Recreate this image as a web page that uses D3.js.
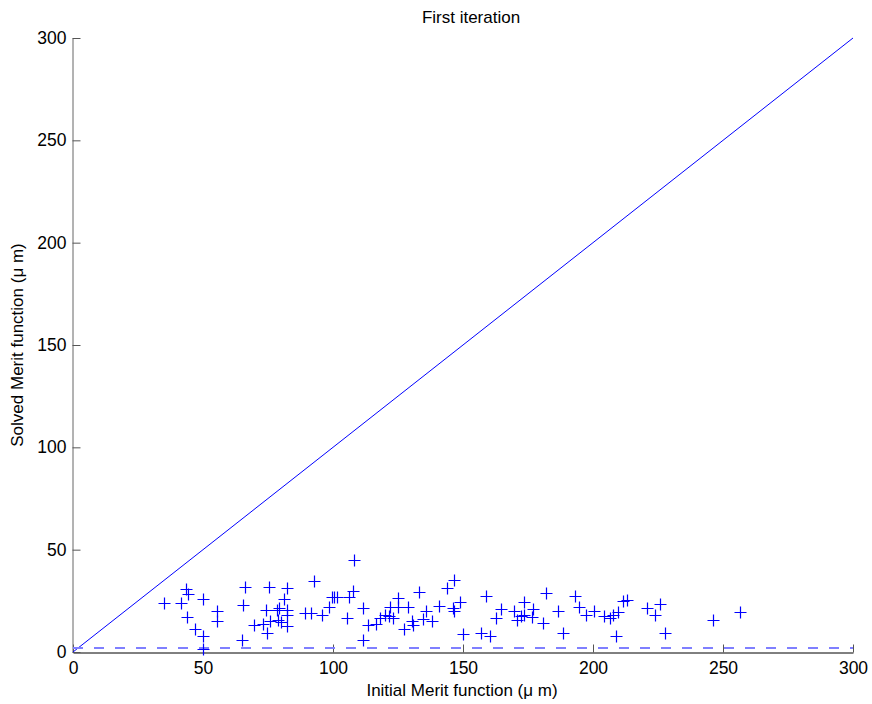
<!DOCTYPE html>
<html>
<head>
<meta charset="utf-8">
<script src="https://cdn.jsdelivr.net/npm/d3@7"></script>
<style>
  html, body { margin: 0; padding: 0; background: #fff; }
  svg { display: block; font-family: "Liberation Sans", Arial, Helvetica, sans-serif; }
</style>
</head>
<body>
<svg id="chart" width="872" height="704"></svg>
<script>
// Initial merit function values (µm)
const initialMerit = [
  35.0, 41.7, 43.3, 44.3, 43.7, 46.9, 49.9, 50.1, 50.1, 55.3,
  55.2, 66.2, 65.4, 65.1, 69.5, 75.5, 82.2, 92.7, 81.3, 99.5,
  100.5, 101.7, 106.3, 107.8, 108.1, 74.2, 78.3, 79.3, 82.4, 82.4,
  89.2, 91.4, 95.9, 98.6, 105.3, 73.0, 75.8, 79.0, 79.9, 82.4,
  74.5, 111.4, 113.6, 116.5, 118.1, 120.0, 121.7, 123.0, 121.9, 125.1,
  125.1, 129.0, 127.3, 130.3, 130.9, 134.5, 138.0, 133.2, 135.8, 140.9,
  143.7, 146.7, 146.3, 146.4, 111.4, 148.8, 158.8, 149.9, 156.8, 160.4,
  164.6, 162.7, 169.7, 173.5, 177.0, 170.7, 172.3, 173.5, 176.4, 180.7,
  181.8, 186.7, 193.1, 194.6, 197.3, 200.4, 204.3, 206.5, 207.6, 209.5,
  211.4, 213.0, 208.8, 188.6, 220.7, 223.8, 225.8, 227.7, 246.3, 256.5
];
// Solved merit function values (µm), same order
const solvedMerit = [
  23.9, 23.7, 31.0, 28.1, 17.0, 11.1, 25.8, 7.6, 1.5, 19.8,
  15.0, 31.8, 23.0, 6.1, 13.3, 31.8, 31.4, 34.8, 26.1, 26.7,
  26.7, 26.7, 26.7, 29.8, 44.9, 20.6, 20.4, 21.5, 20.4, 18.2,
  19.1, 19.1, 18.2, 21.8, 16.6, 13.7, 15.0, 15.8, 14.7, 12.6,
  9.3, 21.5, 13.3, 13.7, 16.6, 18.2, 17.4, 16.6, 21.8, 26.4,
  21.8, 21.8, 11.4, 15.0, 13.3, 16.1, 15.0, 29.2, 19.9, 22.3,
  31.3, 35.0, 21.3, 20.2, 6.0, 24.4, 27.2, 8.9, 9.3, 7.7,
  21.2, 16.6, 20.2, 24.4, 21.2, 15.8, 17.4, 18.2, 17.0, 14.2,
  28.8, 20.2, 27.2, 21.8, 17.9, 19.9, 17.4, 16.6, 18.2, 19.4,
  24.8, 25.3, 8.0, 9.3, 21.5, 18.2, 23.4, 9.3, 15.8, 19.4
];
const xTicks = [0, 50, 100, 150, 200, 250, 300];
const yTicks = [0, 50, 100, 150, 200, 250, 300];
const identityLine = [[0, 0], [300, 300]];
const thresholdLevel = 2;

const svg = d3.select("#chart");
const x = d3.scaleLinear().domain([0, 300]).range([73, 853]);
const y = d3.scaleLinear().domain([0, 300]).range([652, 38]);

// axes with inward ticks
const gx = svg.append("g").attr("transform", `translate(0,${y(0) + 0.5})`)
  .call(d3.axisBottom(x).tickValues(xTicks).tickFormat(d3.format("d"))
    .tickSizeInner(-8).tickSizeOuter(0).tickPadding(9));
gx.select(".domain").attr("stroke", "#000");
gx.selectAll(".tick line").attr("stroke", "#555");
gx.selectAll("text").attr("font-size", 17.5).attr("fill", "#000")
  .attr("font-family", "Liberation Sans, Arial, sans-serif");

const gy = svg.append("g").attr("transform", `translate(${x(0) - 0.5},0)`)
  .call(d3.axisLeft(y).tickValues(yTicks).tickFormat(d3.format("d"))
    .tickSizeInner(-8).tickSizeOuter(0).tickPadding(6));
gy.select(".domain").attr("stroke", "#666");
gy.selectAll(".tick line").attr("stroke", "#555");
gy.selectAll("text").attr("font-size", 17.5).attr("fill", "#000")
  .attr("font-family", "Liberation Sans, Arial, sans-serif");

// y = x reference line
svg.append("path")
  .datum(identityLine)
  .attr("d", d3.line().x(d => x(d[0])).y(d => y(d[1])))
  .attr("fill", "none").attr("stroke", "#0000ff").attr("stroke-width", 1);

// dashed threshold line
svg.append("line")
  .attr("x1", x(0)).attr("x2", x(300))
  .attr("y1", y(thresholdLevel)).attr("y2", y(thresholdLevel))
  .attr("stroke", "#7f7fff").attr("stroke-width", 2)
  .attr("stroke-dasharray", "10,11");

// '+' markers
const pts = initialMerit.map((v, i) => [v, solvedMerit[i]]);
const half = 6;
svg.append("g").selectAll("path").data(pts).join("path")
  .attr("d", d => {
    const cx = Math.round(x(d[0])) + 0.5, cy = Math.round(y(d[1])) + 0.5;
    return `M${cx - half},${cy}H${cx + half}M${cx},${cy - half}V${cy + half}`;
  })
  .attr("fill", "none").attr("stroke", "#0000ff").attr("stroke-width", 1.2);

// titles
svg.append("text").attr("x", 471).attr("y", 23).attr("text-anchor", "middle")
  .attr("font-size", 17).text("First iteration");
svg.append("text").attr("x", 462).attr("y", 696).attr("text-anchor", "middle")
  .attr("font-size", 17).text("Initial Merit function (\u03bc m)");
svg.append("text").attr("transform", "translate(23,345) rotate(-90)")
  .attr("text-anchor", "middle").attr("font-size", 17)
  .text("Solved Merit function (\u03bc m)");
</script>
</body>
</html>
